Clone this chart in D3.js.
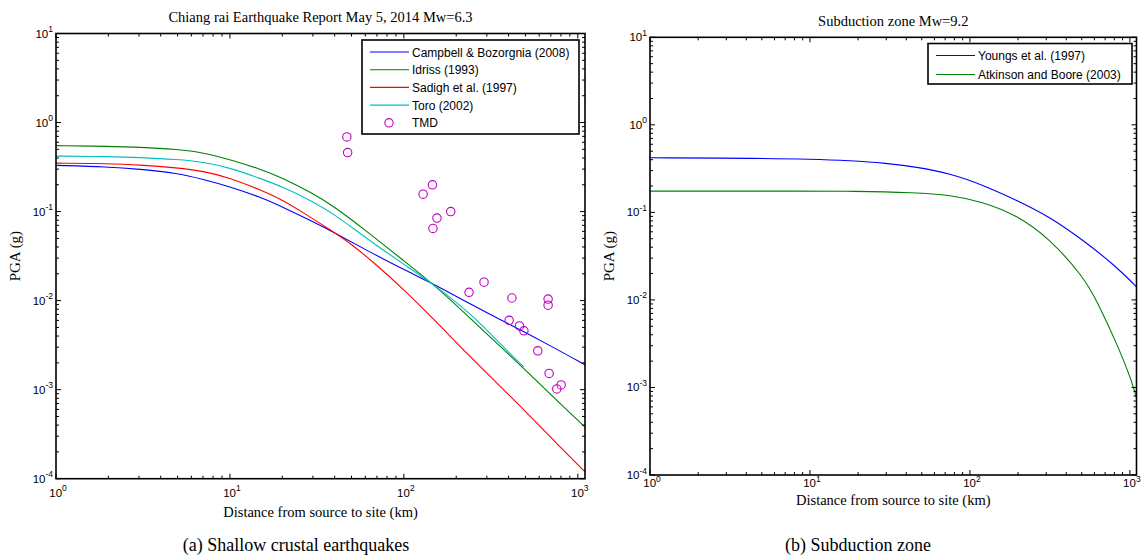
<!DOCTYPE html>
<html>
<head>
<meta charset="utf-8">
<script src="https://cdn.jsdelivr.net/npm/d3@7"></script>
<style>
  body { margin: 0; background: #fff; }
  svg { display: block; }
  .serif { font-family: "Liberation Serif", "Times New Roman", serif; }
  .sans { font-family: "Liberation Sans", Arial, sans-serif; }
</style>
</head>
<body>
<div id="chart"></div>
<script>
// ---- data ----
// (a) shallow crustal
const distCampbell = [1, 2, 3, 5, 7, 10, 15, 20, 30, 40, 60, 100, 150, 250, 400, 700, 1100]
const pgaCampbell = [0.33, 0.318, 0.30, 0.27, 0.23, 0.19, 0.145, 0.113, 0.077, 0.0575, 0.0375, 0.0222, 0.0152, 0.0088, 0.0055, 0.0031, 0.0019]

const distIdriss = [1, 2, 3, 5, 7, 10, 15, 20, 30, 40, 60, 100, 150, 250, 350, 550, 800, 1100]
const pgaIdriss = [0.55, 0.54, 0.53, 0.50, 0.46, 0.385, 0.30, 0.24, 0.16, 0.113, 0.062, 0.028, 0.0150, 0.0059, 0.0032, 0.00139, 0.00068, 0.00038]

const distSadigh = [1, 2, 3, 5, 7, 10, 15, 20, 25, 40, 50, 70, 100, 150, 230, 360, 500, 700, 1100]
const pgaSadigh = [0.35, 0.345, 0.335, 0.31, 0.285, 0.24, 0.175, 0.135, 0.104, 0.058, 0.043, 0.0250, 0.0133, 0.0061, 0.00254, 0.00108, 0.00057, 0.00029, 0.000119]

const distToro = [1, 2, 3, 5, 7, 10, 15, 20, 30, 40, 60, 100, 150, 250, 350, 490]
const pgaToro = [0.42, 0.415, 0.405, 0.385, 0.36, 0.31, 0.235, 0.19, 0.13, 0.093, 0.051, 0.0255, 0.0150, 0.0068, 0.0034, 0.0018]

const distTMD = [47, 47.5, 146, 129, 186, 155, 147, 289, 237, 418, 675, 675, 403, 462, 490, 589, 684, 802, 757]
const pgaTMD = [0.69, 0.46, 0.20, 0.157, 0.100, 0.0845, 0.0647, 0.0161, 0.0124, 0.0107, 0.0104, 0.0089, 0.0060, 0.0052, 0.00458, 0.00273, 0.00152, 0.00113, 0.00102]

// (b) subduction
const distYoungs = [1, 5, 10, 17.8, 30, 46, 75, 121, 196, 316, 511, 826, 1100]
const pgaYoungs = [0.42, 0.415, 0.406, 0.39, 0.365, 0.33, 0.279, 0.205, 0.138, 0.089, 0.048, 0.0239, 0.0141]

const distAtkinson = [1, 10, 17.8, 46, 75, 121, 196, 316, 511, 619, 866, 1048, 1100]
const pgaAtkinson = [0.175, 0.175, 0.175, 0.168, 0.158, 0.132, 0.093, 0.050, 0.0184, 0.0100, 0.00267, 0.00106, 0.00075]

const xMajor = [1, 10, 100, 1000]
const yMajor = [1e-4, 1e-3, 1e-2, 1e-1, 1, 10]

const svg = d3.select("#chart").append("svg")
    .attr("width", 1141)
    .attr("height", 559)

const zip = (xs, ys) => xs.map((x, i) => ({ d: x, v: ys[i] }))

// minor ticks 2..9 within each decade
function minorTicks(lo, hi) {
  const out = []
  for (let e = Math.floor(Math.log10(lo)); e <= Math.ceil(Math.log10(hi)); e++) {
    for (let k = 2; k <= 9; k++) {
      const t = k * Math.pow(10, e)
      if (t > lo && t < hi) out.push(t)
    }
  }
  return out
}

function exponentLabel(sel, val) {
  const e = Math.round(Math.log10(val))
  sel.append("tspan").text("10")
  sel.append("tspan").attr("dy", -5.5).attr("font-size", 8.5).text(e)
}

function drawPanel(p) {
  const x = d3.scaleLog().domain([1, 1100]).range([p.left, p.right])
  const y = d3.scaleLog().domain([1e-4, 10]).range([p.bottom, p.top])
  const g = svg.append("g")

  // curves
  const line = d3.line()
    .x(d => x(d.d))
    .y(d => y(d.v))
    .curve(d3.curveBasis)

  p.series.forEach(s => {
    g.append("path")
      .datum(zip(s.dist, s.pga))
      .attr("fill", "none")
      .attr("stroke", s.color)
      .attr("stroke-width", 1.1)
      .attr("d", line)
  })

  if (p.points) {
    g.selectAll("circle.tmd")
      .data(zip(p.points.dist, p.points.pga))
      .enter().append("circle")
      .attr("class", "tmd")
      .attr("cx", d => x(d.d))
      .attr("cy", d => y(d.v))
      .attr("r", 4.2)
      .attr("fill", "none")
      .attr("stroke", p.points.color)
      .attr("stroke-width", 1.1)
  }

  // ticks, inward, on all four sides
  const tk = g.append("g").attr("stroke", "#000").attr("stroke-width", 1)
  xMajor.forEach(t => {
    tk.append("line").attr("x1", x(t)).attr("x2", x(t)).attr("y1", p.bottom).attr("y2", p.bottom - 5)
    tk.append("line").attr("x1", x(t)).attr("x2", x(t)).attr("y1", p.top).attr("y2", p.top + 5)
  })
  minorTicks(1, 1100).forEach(t => {
    tk.append("line").attr("x1", x(t)).attr("x2", x(t)).attr("y1", p.bottom).attr("y2", p.bottom - 3)
    tk.append("line").attr("x1", x(t)).attr("x2", x(t)).attr("y1", p.top).attr("y2", p.top + 3)
  })
  yMajor.forEach(t => {
    tk.append("line").attr("x1", p.left).attr("x2", p.left + 5).attr("y1", y(t)).attr("y2", y(t))
    tk.append("line").attr("x1", p.right).attr("x2", p.right - 5).attr("y1", y(t)).attr("y2", y(t))
  })
  minorTicks(1e-4, 10).forEach(t => {
    tk.append("line").attr("x1", p.left).attr("x2", p.left + 3).attr("y1", y(t)).attr("y2", y(t))
    tk.append("line").attr("x1", p.right).attr("x2", p.right - 3).attr("y1", y(t)).attr("y2", y(t))
  })

  // box
  g.append("rect")
    .attr("x", p.left).attr("y", p.top)
    .attr("width", p.right - p.left).attr("height", p.bottom - p.top)
    .attr("fill", "none").attr("stroke", "#000").attr("stroke-width", 1.6)

  // tick labels
  xMajor.forEach(t => {
    g.append("text").attr("class", "sans")
      .attr("x", x(t) + 2).attr("y", p.bottom + p.xTickGap)
      .attr("text-anchor", "middle").attr("font-size", 11.5)
      .call(exponentLabel, t)
  })
  yMajor.forEach(t => {
    g.append("text").attr("class", "sans")
      .attr("x", p.left - 3).attr("y", y(t) + 4)
      .attr("text-anchor", "end").attr("font-size", 11.5)
      .call(exponentLabel, t)
  })

  // titles and labels
  g.append("text").attr("class", "serif")
    .attr("x", (p.left + p.right) / 2).attr("y", p.titleY)
    .attr("text-anchor", "middle").attr("font-size", 14.5)
    .text(p.title)
  g.append("text").attr("class", "serif")
    .attr("x", (p.left + p.right) / 2).attr("y", p.xLabelY)
    .attr("text-anchor", "middle").attr("font-size", 14.5)
    .text("Distance from source to site (km)")
  g.append("text").attr("class", "serif")
    .attr("transform", "translate(" + p.yLabelX + "," + ((p.top + p.bottom) / 2) + ") rotate(-90)")
    .attr("text-anchor", "middle").attr("font-size", 15)
    .text("PGA (g)")
  g.append("text").attr("class", "serif")
    .attr("x", p.captionX).attr("y", 551)
    .attr("text-anchor", "middle").attr("font-size", 18)
    .text(p.caption)

  // legend
  const L = p.legend
  const lg = g.append("g")
  lg.append("rect")
    .attr("x", L.x).attr("y", L.y).attr("width", L.w).attr("height", L.h)
    .attr("fill", "#fff").attr("stroke", "#000").attr("stroke-width", 1.6)
  L.items.forEach((it, i) => {
    const cy = L.y + 12 + i * L.step
    if (it.marker) {
      lg.append("circle").attr("cx", L.x + 27).attr("cy", cy).attr("r", 4.2)
        .attr("fill", "none").attr("stroke", it.color).attr("stroke-width", 1.1)
    } else {
      lg.append("line").attr("x1", L.x + 8).attr("x2", L.x + 47)
        .attr("y1", cy).attr("y2", cy)
        .attr("stroke", it.color).attr("stroke-width", 1.1)
    }
    lg.append("text").attr("class", "sans")
      .attr("x", L.x + 50).attr("y", cy + 4.5)
      .attr("font-size", 12)
      .text(it.label)
  })
}

drawPanel({
  left: 56, right: 585, top: 33.5, bottom: 478.7,
  title: "Chiang rai Earthquake Report May 5, 2014 Mw=6.3",
  titleY: 22, xLabelY: 517, yLabelX: 20, xTickGap: 18,
  caption: "(a) Shallow crustal earthquakes", captionX: 296,
  series: [
    { dist: distCampbell, pga: pgaCampbell, color: "#0000ff" },
    { dist: distIdriss, pga: pgaIdriss, color: "#008000" },
    { dist: distSadigh, pga: pgaSadigh, color: "#ff0000" },
    { dist: distToro, pga: pgaToro, color: "#00bfbf" }
  ],
  points: { dist: distTMD, pga: pgaTMD, color: "#bf00bf" },
  legend: {
    x: 362, y: 40, w: 217, h: 94, step: 17.7,
    items: [
      { label: "Campbell & Bozorgnia (2008)", color: "#0000ff" },
      { label: "Idriss (1993)", color: "#008000" },
      { label: "Sadigh et al. (1997)", color: "#ff0000" },
      { label: "Toro (2002)", color: "#00bfbf" },
      { label: "TMD", color: "#bf00bf", marker: true }
    ]
  }
})

drawPanel({
  left: 650, right: 1136.5, top: 37.3, bottom: 475,
  title: "Subduction zone Mw=9.2",
  titleY: 26, xLabelY: 505, yLabelX: 614, xTickGap: 12,
  caption: "(b) Subduction zone", captionX: 858,
  series: [
    { dist: distYoungs, pga: pgaYoungs, color: "#0000ff" },
    { dist: distAtkinson, pga: pgaAtkinson, color: "#008000" }
  ],
  legend: {
    x: 928, y: 43.5, w: 204, h: 40.5, step: 19,
    items: [
      { label: "Youngs et al. (1997)", color: "#0000ff" },
      { label: "Atkinson and Boore (2003)", color: "#008000" }
    ]
  }
})
</script>
</body>
</html>
